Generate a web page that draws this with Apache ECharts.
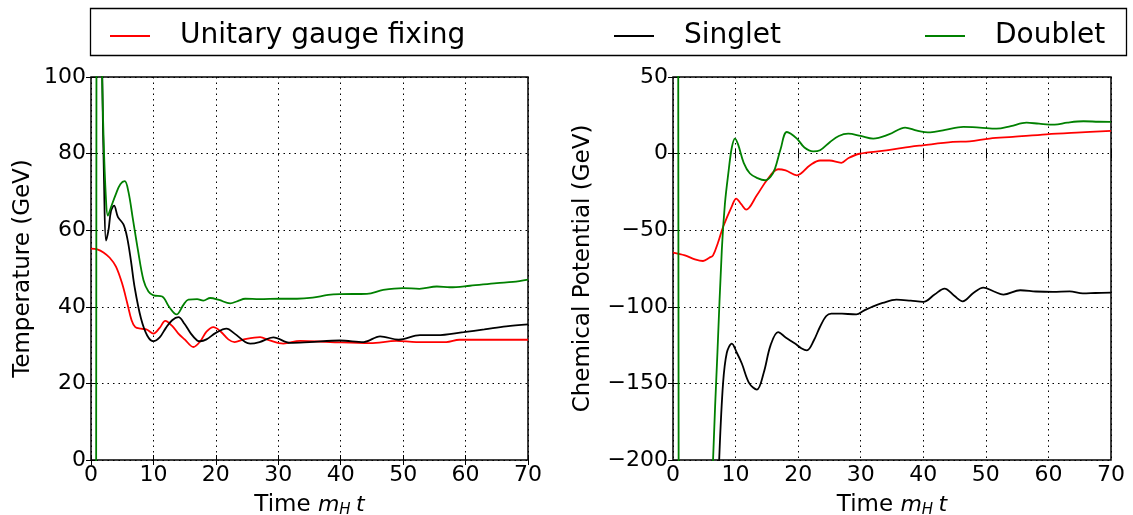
<!DOCTYPE html>
<html><head><meta charset="utf-8">
<script src="https://cdn.jsdelivr.net/npm/echarts@6/dist/echarts.min.js"></script>
<style>html,body{margin:0;padding:0;background:#fff}#c{width:1133px;height:515px}</style>
</head><body><div id="c"></div>
<script>
// Legend / series names
const seriesNames = ['Unitary gauge fixing', 'Singlet', 'Doublet'];
// Axis ticks
const xTicks = [0, 10, 20, 30, 40, 50, 60, 70];
const tempTicks = [0, 20, 40, 60, 80, 100];
const chemTicks = [-200, -150, -100, -50, 0, 50];

// Temperature panel (x = m_H t, y = GeV)
const tempUnitary = [[0,55.2],[1,55],[2,54.2],[3,52.8],[4,50.5],[5,46],[5.8,41],[6.5,36.5],[7.1,34.7],[8,34.3],[9,34],[10,33],[11,34.5],[11.9,36.3],[13,35],[14,33],[15,31.5],[16.4,29.5],[17.5,31],[18.5,33.5],[19.6,34.7],[20.8,33.5],[22,31.5],[23,30.8],[24.5,31.5],[27.1,32.1],[28.5,31.3],[30.8,30.4],[33.5,31.1],[38.3,30.8],[44.7,30.5],[48.9,31.1],[52.1,30.8],[56.9,30.8],[59,31.4],[65,31.4],[70,31.4]];
const tempSinglet = [[0,200],[1.5,150],[1.8,100],[2.1,72],[2.4,57.3],[2.8,60],[3.2,65],[3.7,66.4],[4.3,63.5],[5.2,61.5],[5.8,58],[6.4,52],[7,45],[8,37],[9,32.5],[10,31],[11,32],[12,34.5],[13,36.5],[14,37.3],[15,35.5],[16,33],[17,31.2],[17.5,31],[18.5,31.5],[20,33.2],[21.7,34.3],[23,33],[24.7,30.8],[25.5,30.4],[27,30.8],[29.2,32],[31.9,30.6],[35,30.8],[39.9,31.2],[43.7,30.8],[46.3,32.3],[49.3,31.4],[52.7,32.6],[55.4,32.6],[59.7,33.4],[63,34.1],[66.5,34.9],[70,35.4]];
const tempDoublet = [[0,-100],[0.78,-100],[0.92,200],[1.5,200],[1.7,110],[2.0,85],[2.4,68],[2.7,63.8],[3.2,66],[4,69.5],[4.7,72],[5.4,72.8],[6,70],[6.7,63],[7.5,55],[8.4,47],[9.2,44],[10,43],[11.4,42.7],[12.5,40],[13.7,38],[14.8,40.5],[15.6,41.9],[17,42],[18,41.6],[19.1,42.3],[20.5,41.8],[22.3,40.9],[23.5,41.5],[24.7,42.1],[27,42],[30.2,42.1],[33,42.1],[35.5,42.4],[38,43.1],[39.9,43.3],[44.2,43.4],[46.8,44.4],[50,44.9],[52.6,44.7],[55.4,45.3],[57.5,45.1],[60.7,45.5],[65,46.2],[67.6,46.5],[70,47.1]];

// Chemical potential panel
const chemUnitary = [[0,-64.6],[1.9,-66.4],[3.5,-69],[4.8,-70.1],[5.8,-68],[6.4,-66.4],[7.2,-58],[8,-47.9],[9.4,-34.4],[10.1,-29.4],[10.9,-33],[11.7,-36.6],[13.4,-27.2],[15,-17.4],[16.8,-10.2],[18,-11],[19.8,-14.2],[21.9,-7.6],[23.5,-4.5],[25,-4.5],[26.9,-6],[28,-3],[29.8,-0.1],[34.1,2.1],[36.7,3.8],[39.9,5.4],[44.7,7.6],[47.4,8],[50.6,9.8],[54.3,10.9],[59.7,12.6],[64.5,13.7],[70,14.8]];
const chemSinglet = [[0,-400],[6.5,-300],[7.4,-198],[8.0,-150],[8.6,-130],[9.4,-124],[10.2,-130],[11,-137],[12.2,-150],[13.4,-154],[14.5,-143],[15.6,-125],[16.8,-116.5],[18,-120],[19.5,-124],[20.5,-127],[21.4,-128.4],[22.5,-122],[23.5,-113],[24.5,-106],[25.3,-104.4],[27,-104.5],[29.3,-104.9],[30.5,-102.5],[32,-99.7],[33.5,-97.5],[35.7,-95.3],[38,-96],[40,-96.8],[41.8,-92],[43.4,-88.1],[45,-93],[46.3,-96.4],[48,-91],[49.6,-87.5],[51.3,-90],[52.8,-92],[55.5,-89.2],[58,-90],[60.7,-90.3],[63.4,-89.9],[65.5,-91.3],[67.5,-91],[70,-90.7]];
const chemDoublet = [[0,200],[0.8,200],[0.95,-400],[5.5,-330],[6.4,-200],[7.1,-130],[7.8,-63],[8.3,-32.6],[8.9,-10.9],[9.4,4],[9.9,9.8],[10.4,6],[11.3,-6],[12.3,-13],[13.5,-16],[14.7,-17.4],[15.6,-15],[16.3,-9.8],[17.2,3],[18.2,14.1],[19.8,9.8],[21,4],[22.4,1.5],[23.5,2.2],[25.1,7.6],[26.5,11.5],[28,13],[30,11.5],[32,9.8],[34.5,12.5],[37.1,17],[39,15],[41.1,13.9],[43.5,15.5],[46.4,17.4],[49,17],[51.7,16.3],[54,18],[56.5,20.2],[58.5,19.5],[61,18.9],[63,20.2],[65.6,21.1],[68,20.8],[70,20.7]];

const colors = ['#ff0000', '#000000', '#008000'];
const FONT = 'DejaVu Sans';
const minus = v => String(v).replace('-', '\u2212');

function xAxisPair(gridIndex) {
  const bottom = {
    type: 'value', gridIndex, min: xTicks[0], max: xTicks[xTicks.length-1], interval: 10, position: 'bottom',
    axisLine: {show: false}, axisTick: {show: true, inside: true, length: 5, lineStyle: {color: '#000', width: 1}},
    axisLabel: {color: '#000', fontFamily: FONT, fontSize: 22, margin: 4},
    splitLine: {show: true, lineStyle: {color: '#000', width: 1, type: [1.5, 4]}},
    name: '{n|Time }{i|m}{s|H}{i|\u2009t}', nameLocation: 'middle', nameGap: 32,
    nameTextStyle: {rich: {
      n: {fontFamily: FONT, fontSize: 23, color: '#000'},
      i: {fontFamily: FONT, fontSize: 22, fontStyle: 'italic', color: '#000'},
      s: {fontFamily: FONT, fontSize: 15, fontStyle: 'italic', color: '#000', verticalAlign: 'bottom', padding: [11, 1, 0, 0]}
    }}
  };
  const top = {
    type: 'value', gridIndex, min: 0, max: 70, interval: 10, position: 'top',
    axisLine: {show: false}, axisTick: {show: true, inside: true, length: 5, lineStyle: {color: '#000', width: 1}},
    axisLabel: {show: false}, splitLine: {show: false}
  };
  return [bottom, top];
}
function yAxisPair(gridIndex, ticks, interval, name, gap) {
  const left = {
    type: 'value', gridIndex, min: ticks[0], max: ticks[ticks.length-1], interval, position: 'left',
    axisLine: {show: false}, axisTick: {show: true, inside: true, length: 5, lineStyle: {color: '#000', width: 1}},
    axisLabel: {color: '#000', fontFamily: FONT, fontSize: 22, margin: 5, formatter: minus},
    splitLine: {show: true, lineStyle: {color: '#000', width: 1, type: [1.5, 4]}},
    name, nameLocation: 'middle', nameGap: gap,
    nameTextStyle: {fontFamily: FONT, fontSize: 23, color: '#000'}
  };
  const right = {
    type: 'value', gridIndex, min: ticks[0], max: ticks[ticks.length-1], interval, position: 'right',
    axisLine: {show: false}, axisTick: {show: true, inside: true, length: 5, lineStyle: {color: '#000', width: 1}},
    axisLabel: {show: false}, splitLine: {show: false}
  };
  return [left, right];
}
function line(name, data, color, xi, yi) {
  return {type: 'line', name, data, xAxisIndex: xi, yAxisIndex: yi, showSymbol: false, symbol: 'none',
    smooth: 0.35, clip: true, lineStyle: {color, width: 1.8}, itemStyle: {color}, z: 3};
}

const legendBase = (name, left) => ({
  data: [{name, icon: 'rect'}], left, top: 17, itemWidth: 40, itemHeight: 2, itemGap: 0,
  textStyle: {fontFamily: FONT, fontSize: 28, color: '#000', padding: [0, 0, 0, 25]}, selectedMode: false
});

const option = {
  animation: false,
  backgroundColor: '#fff',
  grid: [
    {left: 91, top: 77, width: 437, height: 383, show: true, borderColor: '#000', borderWidth: 1.5, backgroundColor: 'transparent', containLabel: false, outerBoundsMode: 'none'},
    {left: 673, top: 77, width: 438, height: 383, show: true, borderColor: '#000', borderWidth: 1.5, backgroundColor: 'transparent', containLabel: false, outerBoundsMode: 'none'}
  ],
  xAxis: [...xAxisPair(0), ...xAxisPair(1)],
  yAxis: [...yAxisPair(0, tempTicks, 20, 'Temperature (GeV)', 56), ...yAxisPair(1, chemTicks, 50, 'Chemical Potential (GeV)', 78)],
  legend: [legendBase(seriesNames[0], 105), legendBase(seriesNames[1], 609), legendBase(seriesNames[2], 920)],
  graphic: [{type: 'rect', shape: {x: 90.5, y: 8.5, width: 1036, height: 47}, style: {fill: 'none', stroke: '#000', lineWidth: 1.3}, z: 0}],
  series: [
    line(seriesNames[0], tempUnitary, colors[0], 0, 0),
    line(seriesNames[1], tempSinglet, colors[1], 0, 0),
    line(seriesNames[2], tempDoublet, colors[2], 0, 0),
    line(seriesNames[0], chemUnitary, colors[0], 2, 2),
    line(seriesNames[1], chemSinglet, colors[1], 2, 2),
    line(seriesNames[2], chemDoublet, colors[2], 2, 2)
  ]
};
const chart = echarts.init(document.getElementById('c'), null, {renderer: 'canvas'});
chart.setOption(option);
</script></body></html>
